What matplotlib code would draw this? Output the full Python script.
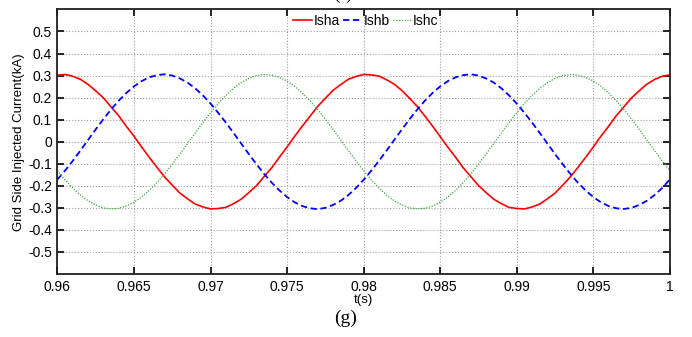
import numpy as np
import matplotlib
matplotlib.use("Agg")
import matplotlib.pyplot as plt

# time axis (s), one sample every 0.5 ms
t = np.arange(0.96, 1.00001, 0.0005)

# grid side injected currents (kA)
isha = [0.302, 0.305, 0.297, 0.283, 0.260, 0.231, 0.199, 0.158, 0.118, 0.070,
        0.025, -0.024, -0.071, -0.116, -0.160, -0.197, -0.233, -0.259, -0.283, -0.296,
        -0.305, -0.303, -0.298, -0.281, -0.261, -0.231, -0.199, -0.158, -0.118, -0.070,
        -0.024, 0.025, 0.071, 0.116, 0.160, 0.197, 0.233, 0.259, 0.283, 0.296,
        0.305, 0.303, 0.298, 0.281, 0.261, 0.232, 0.197, 0.160, 0.116, 0.071,
        0.023, -0.025, -0.070, -0.118, -0.158, -0.199, -0.231, -0.261, -0.281, -0.298,
        -0.303, -0.305, -0.296, -0.283, -0.259, -0.233, -0.197, -0.160, -0.116, -0.071,
        -0.024, 0.025, 0.070, 0.118, 0.158, 0.199, 0.231, 0.261, 0.282, 0.297,
        0.303]
ishb = [-0.171, -0.131, -0.087, -0.040, 0.008, 0.056, 0.102, 0.146, 0.186, 0.221,
        0.251, 0.275, 0.292, 0.302, 0.306, 0.300, 0.287, 0.268, 0.242, 0.210,
        0.173, 0.131, 0.087, 0.040, -0.008, -0.056, -0.102, -0.146, -0.186, -0.221,
        -0.251, -0.275, -0.292, -0.302, -0.306, -0.300, -0.287, -0.268, -0.242, -0.210,
        -0.173, -0.131, -0.087, -0.040, 0.008, 0.056, 0.102, 0.146, 0.186, 0.221,
        0.251, 0.275, 0.292, 0.302, 0.306, 0.300, 0.287, 0.268, 0.242, 0.210,
        0.173, 0.131, 0.087, 0.040, -0.008, -0.056, -0.102, -0.146, -0.186, -0.221,
        -0.251, -0.275, -0.292, -0.302, -0.305, -0.300, -0.287, -0.268, -0.242, -0.210,
        -0.171]
ishc = [-0.131, -0.173, -0.210, -0.242, -0.268, -0.287, -0.300, -0.305, -0.302, -0.292,
        -0.275, -0.251, -0.221, -0.186, -0.146, -0.102, -0.056, -0.008, 0.040, 0.087,
        0.131, 0.173, 0.210, 0.242, 0.268, 0.287, 0.300, 0.305, 0.302, 0.292,
        0.275, 0.251, 0.221, 0.186, 0.146, 0.102, 0.056, 0.008, -0.040, -0.087,
        -0.131, -0.173, -0.210, -0.242, -0.268, -0.287, -0.300, -0.305, -0.302, -0.292,
        -0.275, -0.251, -0.221, -0.186, -0.146, -0.102, -0.056, -0.008, 0.040, 0.087,
        0.131, 0.173, 0.210, 0.242, 0.268, 0.287, 0.300, 0.305, 0.302, 0.292,
        0.275, 0.251, 0.221, 0.186, 0.146, 0.102, 0.056, 0.008, -0.040, -0.087,
        -0.131]

xticks = [0.96, 0.965, 0.97, 0.975, 0.98, 0.985, 0.99, 0.995, 1.0]
xticklabels = ['0.96', '0.965', '0.97', '0.975', '0.98', '0.985', '0.99', '0.995', '1']
yticks = [-0.5, -0.4, -0.3, -0.2, -0.1, 0, 0.1, 0.2, 0.3, 0.4, 0.5]
yticklabels = ['-0.5', '-0.4', '-0.3', '-0.2', '-0.1', '0', '0.1', '0.2', '0.3', '0.4', '0.5']

plt.rcParams['font.family'] = ['Liberation Sans', 'DejaVu Sans']

fig = plt.figure(figsize=(6.92, 3.37), dpi=100)
ax = fig.add_axes([0.083, 0.187, 0.885, 0.785])

ax.plot(t, isha, color='#ff0000', lw=1.2, ls='-', label='Isha')
ax.plot(t, ishb, color='#0000ff', lw=1.3, ls=(0, (3.5, 2)), label='Ishb')
ax.plot(t, ishc, color='#3fae3f', lw=0.9, ls=(0, (1, 1.2)), label='Ishc')

ax.set_xlim(0.96, 1.0)
ax.set_ylim(-0.6, 0.6)
ax.set_xticks(xticks)
ax.set_xticklabels(xticklabels)
ax.set_yticks(yticks)
ax.set_yticklabels(yticklabels)
ax.tick_params(direction='in', top=True, right=True, length=5, width=1.2,
               labelsize=10, pad=4)
ax.grid(True, ls=':', color='#a0a0a0', lw=0.8)
for s in ax.spines.values():
    s.set_linewidth(1.3)
    s.set_color('#202020')

ax.set_xlabel('t(s)', fontsize=9.5, labelpad=0)
ax.set_ylabel('Grid Side Injected Current(kA)', fontsize=9.5, labelpad=2)

leg = ax.legend(loc='upper center', bbox_to_anchor=(0.504, 1.015), ncol=3, frameon=False,
                prop={'size': 10, 'weight': 'medium'}, handlelength=1.35,
                handletextpad=0.1, columnspacing=0.25, borderaxespad=0.2)

fig.text(0.50, 0.056, '(g)', fontsize=14, family='Liberation Serif', ha='center', va='center')
fig.text(0.495, 0.99, '(f)', fontsize=14, family='Liberation Serif', ha='center', va='bottom')

fig.savefig('out.png', dpi=100)
